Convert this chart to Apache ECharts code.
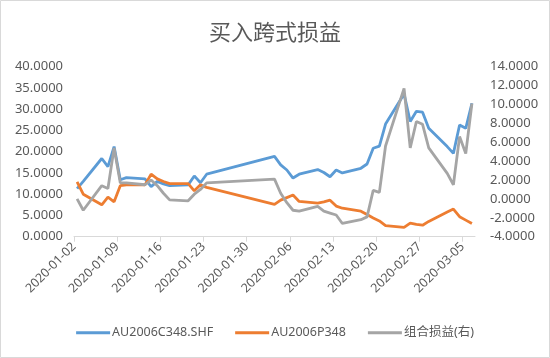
<!DOCTYPE html>
<html><head><meta charset="utf-8">
<script src="https://cdn.jsdelivr.net/npm/echarts@6/dist/echarts.min.js"></script>
<style>html,body{margin:0;padding:0;background:#fff}#c{width:550px;height:358px}</style>
</head><body><div id="c"></div>
<script>
const dates = ['2020-01-02','2020-01-03','2020-01-06','2020-01-07','2020-01-08','2020-01-09','2020-01-10',
  '2020-01-13','2020-01-14','2020-01-15','2020-01-16','2020-01-17','2020-01-20','2020-01-21','2020-01-22','2020-01-23',
  '2020-02-03','2020-02-04','2020-02-05','2020-02-06','2020-02-07','2020-02-10','2020-02-11','2020-02-12','2020-02-13','2020-02-14',
  '2020-02-17','2020-02-18','2020-02-19','2020-02-20','2020-02-21','2020-02-24','2020-02-25','2020-02-26','2020-02-27','2020-02-28',
  '2020-03-02','2020-03-03','2020-03-04','2020-03-05','2020-03-06'];
const callValues = [11.3,13.0,18.4,16.5,21.2,13.4,13.9,
  13.6,11.8,13.0,12.4,12.0,12.2,14.3,12.7,14.7,
  18.9,16.9,15.7,13.8,14.7,15.8,15.1,14.1,15.7,15.0,
  16.1,17.1,20.8,21.3,26.5,33.6,27.1,29.5,29.3,25.5,
  21.2,19.6,26.3,25.5,31.4];
const putValues = [12.9,10.0,7.5,9.3,8.2,12.0,12.2,
  12.2,14.7,13.6,13.0,12.5,12.5,10.8,12.2,11.6,
  7.6,8.6,9.2,9.8,8.3,7.9,8.2,8.6,7.2,6.7,
  6.0,5.2,4.4,3.7,2.6,2.2,3.2,2.9,2.7,3.6,
  5.8,6.5,4.7,3.9,3.1];
const comboValues = [0.0,-1.2,1.4,1.1,5.4,1.7,1.7,
  1.5,2.0,1.4,0.6,-0.1,-0.2,0.5,1.0,1.7,
  2.1,0.6,-0.4,-1.2,-1.3,-0.8,-1.3,-1.5,-1.7,-2.6,
  -2.2,-1.9,0.9,0.7,5.6,11.7,5.4,8.2,7.9,5.4,
  2.7,1.5,6.6,4.8,10.1];
const xTickLabels = ['2020-01-02','2020-01-09','2020-01-16','2020-01-23','2020-01-30','2020-02-06','2020-02-13','2020-02-20','2020-02-27','2020-03-05'];
const seriesNames = ['AU2006C348.SHF','AU2006P348','组合损益(右)'];
const titleText = '买入跨式损益';

const DAY = 86400000;
const base = Date.parse(dates[0] + 'T00:00:00Z');
const off = s => Math.round((Date.parse(s + 'T00:00:00Z') - base) / DAY);
const toDate = v => new Date(base + v * DAY).toISOString().slice(0, 10);
const tickVals = xTickLabels.map(off);
const mk = arr => dates.map((d, i) => [off(d) + 0.5, arr[i]]);

const font = '"Noto Sans", "Noto Sans CJK SC", sans-serif';
const chart = echarts.init(document.getElementById('c'), null, {renderer: 'canvas'});
chart.setOption({
  animation: false,
  color: ['#5B9BD5', '#ED7D31', '#A5A5A5'],
  graphic: [{type: 'rect', shape: {x: 0.5, y: 0.5, width: 549, height: 357}, style: {fill: 'none', stroke: '#d9d9d9', lineWidth: 1}}],
  title: {text: titleText, left: 'center', top: 16,
    textStyle: {fontSize: 22, fontWeight: 'normal', color: '#595959', fontFamily: '"Noto Sans CJK SC", sans-serif'}},
  legend: {bottom: 14, left: 'center', itemWidth: 34, itemHeight: 3, itemGap: 22, icon: 'rect',
    textStyle: {fontSize: 12.5, color: '#595959', fontFamily: font, padding: [0, 0, 0, -3]},
    data: seriesNames},
  grid: {left: 74, right: 75, top: 66.7, bottom: 121.3, containLabel: false},
  xAxis: {type: 'value', min: 0, max: off('2020-03-07'),
    axisLine: {onZero: false, lineStyle: {color: '#d9d9d9', width: 1}},
    axisTick: {show: true, length: 5, lineStyle: {color: '#d9d9d9'}, customValues: tickVals},
    splitLine: {show: false},
    axisLabel: {rotate: 45, margin: 8, fontSize: 12.5, color: '#595959', fontFamily: font,
      customValues: tickVals, formatter: v => toDate(v)}},
  yAxis: [
    {type: 'value', min: 0, max: 40, interval: 5, splitLine: {show: false},
      axisLine: {show: false}, axisTick: {show: false},
      axisLabel: {margin: 11, fontSize: 13, color: '#595959', fontFamily: font, formatter: v => v.toFixed(4)}},
    {type: 'value', min: -4, max: 14, interval: 2, splitLine: {show: false},
      axisLine: {show: false}, axisTick: {show: false},
      axisLabel: {margin: 15, fontSize: 13, color: '#595959', fontFamily: font, formatter: v => v.toFixed(4)}}
  ],
  series: [
    {name: seriesNames[0], type: 'line', yAxisIndex: 0, data: mk(callValues), symbol: 'none', lineStyle: {width: 2.8}},
    {name: seriesNames[1], type: 'line', yAxisIndex: 0, data: mk(putValues), symbol: 'none', lineStyle: {width: 2.8}},
    {name: seriesNames[2], type: 'line', yAxisIndex: 1, data: mk(comboValues), symbol: 'none', lineStyle: {width: 2.8}}
  ]
});
</script></body></html>
